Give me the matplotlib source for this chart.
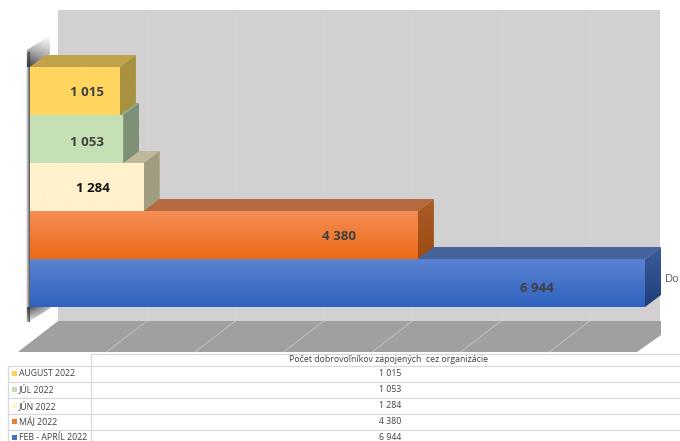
"""Horizontal 3D-look bar chart with a data table underneath."""

from __future__ import annotations

import matplotlib

matplotlib.use("Agg")
import matplotlib.pyplot as plt
import numpy as np
from matplotlib.colors import to_rgb
from matplotlib.patches import Polygon

plt.rcParams["font.family"] = ["Open Sans", "DejaVu Sans"]

periods = ["AUGUST 2022", "JÚL 2022", "JÚN 2022", "MÁJ 2022", "FEB - APRÍL 2022"]
volunteers = [1015, 1053, 1284, 4380, 6944]
value_labels = ["1 015", "1 053", "1 284", "4 380", "6 944"]
table_header = "Počet dobrovoľníkov zapojených  cez organizácie"
axis_label = "Do"

# styles per bar: front top/bottom, top face, side top/bottom, label colour
FRONT_TOP = ["#ffd55f", "#c5e0b4", "#fff2cc", "#f58d55", "#5c83d2"]
FRONT_BOTTOM = ["#ffd55f", "#c5e0b4", "#fff2cc", "#ec6a15", "#2f62bf"]
TOP_FACE = ["#c0a24b", "#94aa88", "#c0b89a", "#b56a3f", "#46639c"]
SIDE_TOP = ["#a8913f", "#7d9075", "#a09c80", "#ab5d28", "#3d5c9c"]
SIDE_BOTTOM = ["#a8913f", "#7d9075", "#a09c80", "#9c4a12", "#1f3f78"]
LABEL_COLOR = ["#404040", "#404040", "#111111", "#404040", "#404040"]
SWATCH = ["#ffcf55", "#c5e0b4", "#fff2cc", "#ed7d31", "#4472c4"]
LABEL_PX = [87, 87, 93, 339, 537]
LABEL_PY = [93, 142, 189, 237, 289]

BAR_TOP = 67.0
BAR_H = 48.0
BAR_LEFT = 30.0
PX_PER_UNIT = 615.0 / 6944.0
DEPTH_X = 16.0
DEPTH_Y = 12.0


def gradient(ax, verts, top, bottom, zorder):
    """Fill a polygon with a vertical two-colour gradient."""
    verts = np.asarray(verts, dtype=float)
    t = np.linspace(0.0, 1.0, 64)
    c0, c1 = np.array(to_rgb(top)), np.array(to_rgb(bottom))
    ramp = c0[None, :] * (1 - t)[:, None] + c1[None, :] * t[:, None]
    extent = (verts[:, 0].min(), verts[:, 0].max(), verts[:, 1].max(), verts[:, 1].min())
    im = ax.imshow(ramp[:, None, :], extent=extent, aspect="auto", zorder=zorder, interpolation="bilinear")
    clip = Polygon(verts, closed=True, transform=ax.transData, fc="none", ec="none")
    ax.add_patch(clip)
    im.set_clip_path(clip)


def shadow(ax, verts, alpha_top, alpha_bottom, alpha_left, alpha_right, zorder, color="#3a3a3a"):
    """Soft dark patch: opacity is the product of a vertical and a horizontal ramp."""
    verts = np.asarray(verts, dtype=float)
    ty = np.linspace(alpha_top, alpha_bottom, 48)
    tx = np.linspace(alpha_left, alpha_right, 48)
    rgba = np.zeros((48, 48, 4))
    rgba[..., :3] = to_rgb(color)
    rgba[..., 3] = np.outer(ty, tx)
    extent = (verts[:, 0].min(), verts[:, 0].max(), verts[:, 1].max(), verts[:, 1].min())
    im = ax.imshow(rgba, extent=extent, aspect="auto", zorder=zorder, interpolation="bilinear")
    clip = Polygon(verts, closed=True, transform=ax.transData, fc="none", ec="none")
    ax.add_patch(clip)
    im.set_clip_path(clip)


fig = plt.figure(figsize=(6.8, 4.41), dpi=100)
deco = fig.add_axes((0, 0, 1, 1))
bars = fig.add_axes((0, 0, 1, 1))
for a in (deco, bars):
    a.axis("off")
bars.patch.set_alpha(0)

# walls and floor
deco.add_patch(Polygon([(58, 10), (660, 10), (660, 321), (58, 321)], fc="#d2d0d1", ec="none", zorder=1))
deco.add_patch(
    Polygon([(18, 352), (58, 321), (661, 321), (661, 335), (637, 352)], fc="#a0a0a0", ec="none", zorder=1)
)
for k in range(1, 7):
    gx = 58 + k * 1000 * PX_PER_UNIT
    deco.plot([gx, gx], [10, 321], color="#d9d7d8", lw=0.5, zorder=2)
    deco.plot([gx, gx - 40], [321, 352], color="#c4c4c4", lw=0.6, zorder=2)

# shadow around the left of the stack
shadow(deco, [(26, 52), (30, 52), (30, 322), (26, 322)], 0.9, 0.9, 0.0, 1.0, 3)
shadow(deco, [(27, 67), (30, 67), (50, 54), (50, 35), (27, 50)], 0.0, 1.0, 1.0, 0.55, 3)
shadow(deco, [(27, 307), (52, 307), (27, 323)], 0.95, 0.0, 1.0, 0.3, 3)

# bars, lowest first so the upper fronts overlap
for i in reversed(range(len(volunteers))):
    y0 = BAR_TOP + i * BAR_H
    y1 = y0 + BAR_H
    v = volunteers[i]
    dx = DEPTH_X / PX_PER_UNIT
    z = 10 + (len(volunteers) - i) * 3
    bars.add_patch(Polygon([(0, y0), (dx, y0 - DEPTH_Y), (v + dx, y0 - DEPTH_Y), (v, y0)],
                           fc=TOP_FACE[i], ec="none", zorder=z))
    gradient(bars, [(v, y0), (v + dx, y0 - DEPTH_Y), (v + dx, y1 - DEPTH_Y), (v, y1)],
             SIDE_TOP[i], SIDE_BOTTOM[i], z + 1)
    gradient(bars, [(0, y0), (v, y0), (v, y1), (0, y1)], FRONT_TOP[i], FRONT_BOTTOM[i], z + 2)
    bars.text((LABEL_PX[i] - BAR_LEFT) / PX_PER_UNIT, LABEL_PY[i], value_labels[i],
              ha="center", va="center", fontsize=9.5, fontweight="bold", color=LABEL_COLOR[i], zorder=40)

deco.text(665, 279, axis_label, ha="left", va="center", fontsize=8, color="#595959", zorder=5)

# data table
line = dict(color="#d9d9d9", lw=0.9, zorder=4)
row_y = [365.5, 381.5, 398, 414, 430]
deco.plot([91, 680], [353.5, 353.5], **line)
deco.plot([91, 91], [353.5, 441], **line)
deco.plot([8, 8], [365.5, 441], **line)
for ry in row_y:
    deco.plot([8, 680], [ry, ry], **line)
deco.text(389, 359.5, table_header, ha="center", va="center", fontsize=6.3, color="#404040", zorder=5)
for i, ry in enumerate(row_y):
    cy = ry + 8
    deco.add_patch(Polygon([(12, cy - 3), (17, cy - 3), (17, cy + 2), (12, cy + 2)],
                           fc=SWATCH[i], ec="none", zorder=5))
    deco.text(19, cy, periods[i], ha="left", va="center", fontsize=6.3, color="#404040", zorder=5)
    deco.text(390, cy, value_labels[i], ha="center", va="center", fontsize=6.3, color="#404040", zorder=5)

deco.set_xlim(0, 680)
deco.set_ylim(441, 0)
bars.set_xlim(-BAR_LEFT / PX_PER_UNIT, (680 - BAR_LEFT) / PX_PER_UNIT)
bars.set_ylim(441, 0)

fig.savefig("out.png", dpi=100)
